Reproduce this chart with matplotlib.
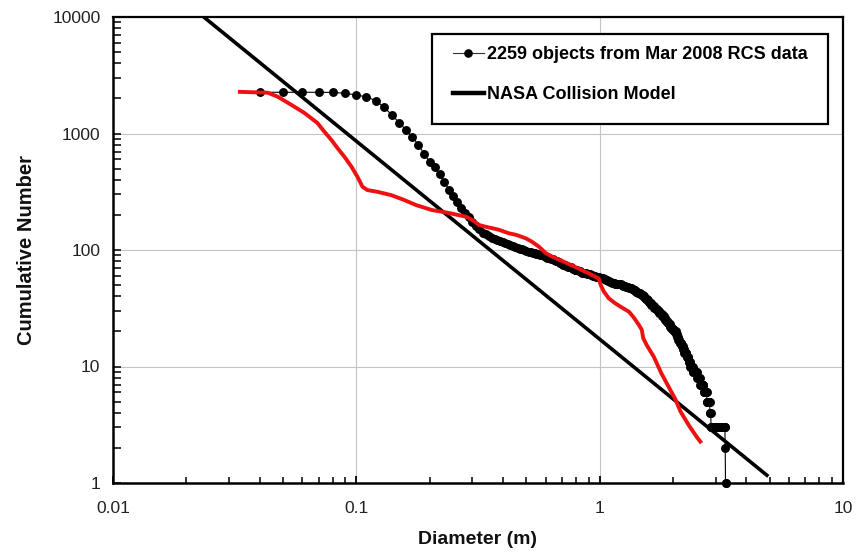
import numpy as np
import matplotlib
matplotlib.use("Agg")
import matplotlib.pyplot as plt
from matplotlib.ticker import FixedLocator, FixedFormatter, LogLocator, NullFormatter
from matplotlib.patches import Rectangle
from matplotlib.lines import Line2D

plt.rcParams['font.family'] = ['Liberation Sans', 'DejaVu Sans']

# ---------------- data ----------------
# RCS cumulative counts, one value per 0.01 m diameter bin starting at 0.04 m
rcs_count = [
    2259, 2259, 2259, 2259, 2250, 2215, 2140,
    2065, 1915, 1680, 1440, 1240, 1070, 930, 800, 667, 573,
    515, 445, 385, 330, 292, 258, 228, 206, 193, 175,
    162, 152, 140, 136, 132, 127, 124, 122, 119, 117,
    115, 113, 111, 109, 107, 105, 103, 101, 100, 98,
    97, 96, 95, 94, 93, 92, 91, 90, 88, 87,
    86, 85, 84, 83, 82, 81, 80, 79, 77, 76,
    75, 74, 73, 72, 71, 71, 70, 69, 68, 67,
    67, 66, 66, 65, 64, 64, 63, 63, 62, 62,
    62, 61, 61, 60, 60, 60, 59, 59, 59, 58,
    58, 57, 57, 56, 56, 55, 55, 54, 54, 53,
    53, 52, 52, 52, 52, 51, 51, 51, 51, 51,
    51, 51, 50, 50, 49, 49, 49, 48, 48, 48,
    48, 47, 47, 47, 47, 46, 46, 45, 45, 45,
    44, 44, 44, 43, 43, 43, 42, 42, 41, 41,
    40, 40, 39, 39, 38, 38, 37, 37, 36, 36,
    35, 35, 34, 34, 33, 33, 33, 32, 32, 31,
    31, 31, 30, 30, 30, 29, 29, 28, 28, 28,
    27, 27, 27, 26, 26, 25, 25, 25, 24, 24,
    24, 23, 23, 23, 22, 22, 22, 21, 21, 21,
    21, 20, 20, 20, 20, 19, 19, 18, 18, 17,
    17, 17, 16, 16, 16, 16, 15, 15, 15, 14,
    14, 14, 13, 13, 13, 13, 13, 12, 12, 12,
    12, 11, 11, 11, 11, 10, 10, 10, 10, 10,
    10, 9, 9, 9, 9, 9, 9, 9, 9, 9,
    9, 8, 8, 8, 8, 8, 8, 8, 7, 7,
    7, 7, 7, 7, 7, 7, 7, 6, 6, 6,
    6, 6, 6, 6, 6, 5, 5, 5, 5, 5,
    5, 5, 5, 4, 4, 4, 3, 3, 3, 3,
    3, 3, 3, 3, 3, 3, 3, 3, 3, 3,
    3, 3, 3, 3, 3, 3, 3, 3, 3, 3,
    3, 3, 3, 3, 3, 3, 3, 3, 3, 3,
    3, 3, 3, 3, 3, 3, 3, 2, 1, 1,
]
rcs_first_bin = 4          # first bin = 0.04 m, bin width 0.01 m
rcs_diam = (rcs_first_bin + np.arange(len(rcs_count))) / 100.0

# red curve
red_diam = [0.0326, 0.0432, 0.0475, 0.0542, 0.0612, 0.0692, 0.0739, 0.0790, 0.0836,
            0.0893, 0.0955, 0.101, 0.106, 0.111, 0.122, 0.139, 0.157, 0.176, 0.205,
            0.240, 0.282, 0.300, 0.319, 0.341, 0.361, 0.386, 0.424, 0.453, 0.497,
            0.526, 0.562, 0.601, 0.636, 0.767, 0.901, 0.99, 1.01, 1.04, 1.09, 1.16,
            1.23, 1.32, 1.38, 1.45, 1.49, 1.51, 1.56, 1.67, 1.79, 1.92, 2.05, 2.15,
            2.32, 2.50, 2.62]
red_count = [2280, 2240, 2070, 1756, 1500, 1231, 1036, 880, 751,
             632, 519, 426, 349, 327, 316, 296, 269, 243, 220,
             208, 193, 181, 164, 158, 154, 149, 139, 135, 126,
             118, 107, 94, 88, 74, 63, 57, 50, 44, 38.5, 34.8,
             32.2, 29.5, 26.4, 22.7, 20.6, 17.5, 15.3, 12.1, 8.8, 6.7, 5.2, 4.1,
             3.15, 2.5, 2.2]

# NASA collision model (power law) end points
nasa_diam = [0.0236, 4.93]
nasa_count = [10000, 1.14]

x_ticks = [0.01, 0.1, 1, 10]
x_ticklabels = ['0.01', '0.1', '1', '10']
y_ticks = [1, 10, 100, 1000, 10000]
y_ticklabels = ['1', '10', '100', '1000', '10000']

label_rcs = '2259 objects from Mar 2008 RCS data'
label_nasa = 'NASA Collision Model'

# ---------------- figure ----------------
W, H = 864, 553
fig = plt.figure(figsize=(W / 100, H / 100), dpi=100)
L, R, T, B = 113, 843, 17, 483
ax = fig.add_axes([L / W, 1 - B / H, (R - L) / W, (B - T) / H])

ax.set_xscale('log')
ax.set_yscale('log')
ax.set_xlim(0.01, 10)
ax.set_ylim(1, 10000)

ax.plot(rcs_diam, rcs_count, color='black', lw=0.8, marker='o', ms=5.4,
        mec='black', mfc='black', zorder=3, clip_on=False)
ax.plot(nasa_diam, nasa_count, color='black', lw=2.6, zorder=4, solid_capstyle='butt')
ax.plot(red_diam, red_count, color='#ee1111', lw=2.8, zorder=5, solid_capstyle='butt')

ax.xaxis.set_major_locator(FixedLocator(x_ticks))
ax.xaxis.set_major_formatter(FixedFormatter(x_ticklabels))
ax.yaxis.set_major_locator(FixedLocator(y_ticks))
ax.yaxis.set_major_formatter(FixedFormatter(y_ticklabels))
ax.xaxis.set_minor_locator(LogLocator(base=10, subs=np.arange(2, 10), numticks=20))
ax.yaxis.set_minor_locator(LogLocator(base=10, subs=np.arange(2, 10), numticks=20))
ax.xaxis.set_minor_formatter(NullFormatter())
ax.yaxis.set_minor_formatter(NullFormatter())

ax.tick_params(axis='x', which='major', direction='in', length=5, width=1.3,
               labelsize=12.5, pad=13, colors='black', labelcolor='#222222')
ax.tick_params(axis='x', which='minor', direction='in', length=4, width=1.1)
ax.tick_params(axis='y', which='both', direction='in', length=6, width=1.1,
               labelsize=12.5, pad=9, colors='black', labelcolor='#222222')

ax.grid(True, which='major', color='#c4c4c4', lw=0.8)
ax.set_axisbelow(True)

for s in ax.spines.values():
    s.set_linewidth(1.6)
    s.set_color('black')
ax.spines['left'].set_linewidth(1.8)
ax.spines['bottom'].set_linewidth(1.8)

ax.set_xlabel('Diameter (m)', fontsize=14, fontweight='bold', color='#111111')
ax.set_ylabel('Cumulative Number', fontsize=14.5, fontweight='bold', color='#111111')
ax.xaxis.set_label_coords(0.5, -0.102)
ax.yaxis.set_label_coords(-0.105, 0.5)

# legend (frame drawn separately to match the box)
h1 = Line2D([], [], color='#333333', lw=0.8, marker='o', ms=5.2, mfc='black', mec='black')
h2 = Line2D([], [], color='black', lw=3.2)
leg = fig.legend([h1, h2], [label_rcs, label_nasa], loc='upper left',
                 bbox_to_anchor=(453 / W, 1 - 46 / H), borderaxespad=0, borderpad=0,
                 frameon=False, labelspacing=1.3, handlelength=1.7, handletextpad=0.2,
                 prop={'size': 13, 'weight': 'bold'})
fig.patches.append(Rectangle((432 / W, 1 - 124 / H), (828 - 432) / W, (124 - 34) / H,
                             transform=fig.transFigure, fill=True, facecolor='white',
                             edgecolor='black', lw=1.6, zorder=0))
fig.savefig('out.png', dpi=100)
